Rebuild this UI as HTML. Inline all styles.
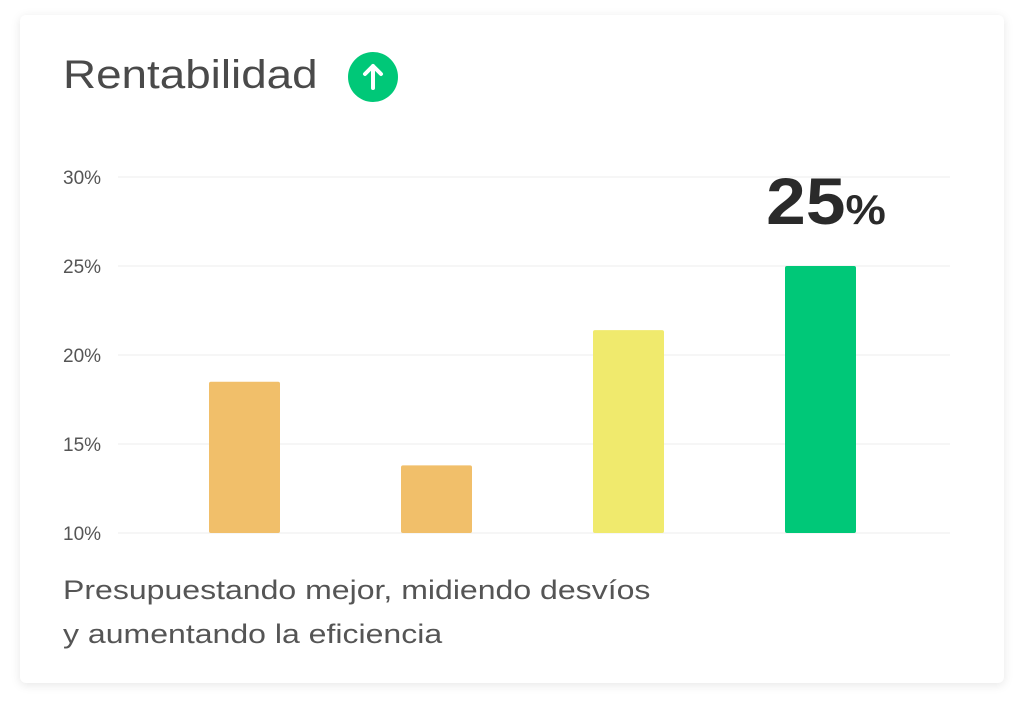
<!DOCTYPE html>
<html><head><meta charset="utf-8"><style>
body{margin:0;width:1024px;height:710px;background:#fff;font-family:"Liberation Sans",sans-serif;overflow:hidden}
#card{position:absolute;left:20px;top:15px;width:984px;height:668px;background:#fff;border-radius:6px;box-shadow:0 2px 10px rgba(0,0,0,0.10)}
#title{position:absolute;left:63px;top:53px;font-size:40px;color:#4a4a4a;transform:scaleX(1.145);transform-origin:left top;white-space:nowrap}
#foot{position:absolute;left:63px;top:568px;font-size:27px;line-height:44px;color:#555;transform:scaleX(1.186);transform-origin:left top;white-space:nowrap}
svg{position:absolute;left:0;top:0}
</style></head><body>
<div id="card"></div>
<div id="title">Rentabilidad</div>
<svg width="1024" height="710" id="chart">
<g>
<circle cx="373" cy="77" r="25" fill="#00c878"/>
<path d="M373 88 V66 M365 74 L373 66 L381 74" stroke="#fff" stroke-width="4" fill="none" stroke-linecap="round" stroke-linejoin="round"/>
</g>
<g id="grid"></g><g id="bars"></g>
<text x="826" y="224" text-anchor="middle" font-family="Liberation Sans" font-weight="bold" fill="#2a2a2a" transform="translate(826 0) scale(1.08 1) translate(-826 0)"><tspan font-size="66">25</tspan><tspan font-size="42">%</tspan></text>
</svg>
<div id="foot">Presupuestando mejor, midiendo desvíos<br>y aumentando la eficiencia</div>
<script>
const categories=["A","B","C","D"];
const values=[18.5,13.8,21.4,25];
const colors=["#f1bf6a","#f1bf6a","#f0ea6d","#00c878"];
const ticks=[10,15,20,25,30];
const tickLabels=["10%","15%","20%","25%","30%"];
const NS="http://www.w3.org/2000/svg";
const y=v=>533-(v-10)*(533-177)/20;
const x=i=>209+i*192;
const g=document.getElementById('grid'),b=document.getElementById('bars');
ticks.forEach((t,i)=>{
 const l=document.createElementNS(NS,'line');
 l.setAttribute('x1',118);l.setAttribute('x2',950);l.setAttribute('y1',y(t));l.setAttribute('y2',y(t));
 l.setAttribute('stroke','#ececec');l.setAttribute('stroke-width',1);
 
 
 g.appendChild(l);
 const tx=document.createElementNS(NS,'text');
 tx.setAttribute('x',63);tx.setAttribute('y',y(t)+7);tx.setAttribute('font-size',19);tx.setAttribute('fill','#555');
 tx.textContent=tickLabels[i];
 
 
 g.appendChild(tx);
});
values.forEach((v,i)=>{
 const r=document.createElementNS(NS,'rect');
 r.setAttribute('x',x(i));r.setAttribute('width',71);r.setAttribute('y',y(v));r.setAttribute('height',y(10)-y(v));
 r.setAttribute('fill',colors[i]);r.setAttribute('rx',2);
 
 
 b.appendChild(r);
});
</script>
</body></html>
